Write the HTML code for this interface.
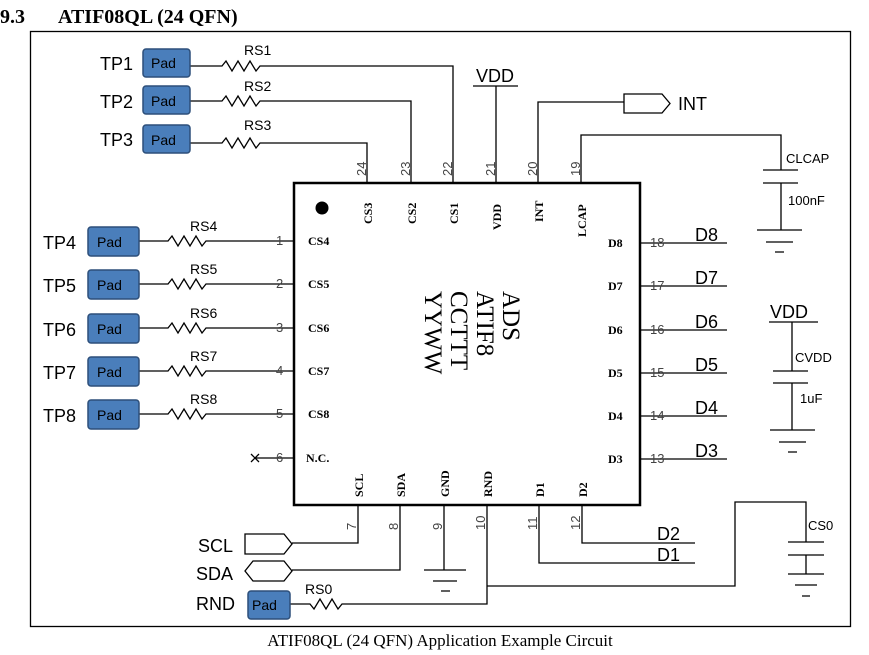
<!DOCTYPE html>
<html><head><meta charset="utf-8"><style>
body{margin:0;background:#fff;width:869px;height:655px;overflow:hidden}
svg{display:block}
.a{font-family:"Liberation Sans",Arial,sans-serif;fill:#000}
.s{font-family:"Liberation Serif",serif;fill:#000}
.b{font-family:"Liberation Serif",serif;font-weight:bold;font-size:12px;fill:#000}
.n{font-family:"Liberation Sans",sans-serif;font-size:13px;fill:#444}
.pad{fill:#4a7ebb;stroke:#2d4f7a;stroke-width:1.5}
.pt{font-family:"Liberation Sans",sans-serif;font-size:14px;fill:#000}
</style></head><body>
<svg width="869" height="655" viewBox="0 0 869 655" xmlns="http://www.w3.org/2000/svg">
<text x="0" y="23" class="s" font-size="20" font-weight="bold">9.3</text>
<text x="58" y="23" class="s" font-size="20" font-weight="bold">ATIF08QL (24 QFN)</text>
<rect x="30.5" y="31.5" width="820" height="595" fill="none" stroke="#000" stroke-width="1.3"/>
<g stroke="#000" stroke-width="1.3" fill="none">
<rect x="294" y="183" width="346" height="322" stroke-width="2.5"/>
<path d="M190 66H222l4-5 6 10 6-10 6 10 6-10 6 10 4-5H453V183"/>
<path d="M190 101H222l4-5 6 10 6-10 6 10 6-10 6 10 4-5H411V183"/>
<path d="M190 143H222l4-5 6 10 6-10 6 10 6-10 6 10 4-5H367V183"/>
<path d="M496 183V86M473 86H518"/>
<path d="M538 183V102H624"/>
<path d="M624 94H662l8 9.5-8 9.5H624Z"/>
<path d="M581 183V135H781V170M763 170H798M763 183H798M781 183V230M757 230H802M766 242H793M775 252H784"/>
<path d="M139 241H168l4-5 6 10 6-10 6 10 6-10 6 10 4-5H294"/>
<path d="M139 284H168l4-5 6 10 6-10 6 10 6-10 6 10 4-5H294"/>
<path d="M139 328H168l4-5 6 10 6-10 6 10 6-10 6 10 4-5H294"/>
<path d="M139 371H168l4-5 6 10 6-10 6 10 6-10 6 10 4-5H294"/>
<path d="M139 414H168l4-5 6 10 6-10 6 10 6-10 6 10 4-5H294"/>
<path d="M255 458H294M251 454l8 8M259 454l-8 8"/>
<path d="M640 243H727M640 286H727M640 330H727M640 373H727M640 416H727M640 459H727"/>
<path d="M769 322H818M792 322V371M773 371H808M773 383H808M792 383V430M770 430H815M779 442H806M788 452H797"/>
<path d="M358 505V543H292M400 505V570H292"/>
<path d="M245 534H284l8 10-8 10H245Z"/>
<path d="M253 561H284l8 10-8 10H253l-8-10Z"/>
<path d="M444 505V570M424 570H466M433 581H457M441 591H450"/>
<path d="M487 505V604H342l-4 5-6-10-6 10-6-10-6 10-4-5H290"/>
<path d="M487 586H735V502H806V542M788 542H824M788 555H824M806 555V574M788 574H824M795 585H817M802 596H810"/>
<path d="M539 505V563H695M582 505V543H695"/>
</g>
<circle cx="322" cy="208" r="6.5" fill="#000"/>
<g>
<rect class="pad" x="143" y="49" width="47" height="28" rx="3"/><text class="pt" x="151" y="68">Pad</text>
<rect class="pad" x="143" y="86" width="47" height="28" rx="3"/><text class="pt" x="151" y="106">Pad</text>
<rect class="pad" x="143" y="125" width="47" height="28" rx="3"/><text class="pt" x="151" y="145">Pad</text>
<rect class="pad" x="88" y="227" width="51" height="29" rx="3"/><text class="pt" x="97" y="247">Pad</text>
<rect class="pad" x="88" y="270" width="51" height="29" rx="3"/><text class="pt" x="97" y="290">Pad</text>
<rect class="pad" x="88" y="314" width="51" height="29" rx="3"/><text class="pt" x="97" y="334">Pad</text>
<rect class="pad" x="88" y="357" width="51" height="29" rx="3"/><text class="pt" x="97" y="377">Pad</text>
<rect class="pad" x="88" y="400" width="51" height="29" rx="3"/><text class="pt" x="97" y="420">Pad</text>
<rect class="pad" x="248" y="591" width="42" height="28" rx="3"/><text class="pt" x="252" y="610">Pad</text>
</g>
<g class="a" font-size="18">
<text x="100" y="70">TP1</text><text x="100" y="108">TP2</text><text x="100" y="146">TP3</text>
<text x="43" y="249">TP4</text><text x="43" y="292">TP5</text><text x="43" y="336">TP6</text><text x="43" y="379">TP7</text><text x="43" y="422">TP8</text>
<text x="476" y="82">VDD</text><text x="678" y="110">INT</text><text x="770" y="318">VDD</text>
<text x="695" y="241">D8</text><text x="695" y="284">D7</text><text x="695" y="328">D6</text><text x="695" y="371">D5</text><text x="695" y="414">D4</text><text x="695" y="457">D3</text>
<text x="657" y="540">D2</text><text x="657" y="561">D1</text>
<text x="198" y="552">SCL</text><text x="196" y="580">SDA</text><text x="196" y="610">RND</text>
</g>
<g class="a" font-size="14">
<text x="244" y="55">RS1</text><text x="244" y="91">RS2</text><text x="244" y="130">RS3</text>
<text x="190" y="231">RS4</text><text x="190" y="274">RS5</text><text x="190" y="318">RS6</text><text x="190" y="361">RS7</text><text x="190" y="404">RS8</text>
<text x="305" y="594">RS0</text>
</g>
<g class="a" font-size="13">
<text x="786" y="163">CLCAP</text><text x="788" y="205">100nF</text>
<text x="795" y="362">CVDD</text><text x="800" y="403">1uF</text>
<text x="808" y="530">CS0</text>
</g>
<g class="n">
<text x="276" y="245">1</text><text x="276" y="288">2</text><text x="276" y="332">3</text><text x="276" y="375">4</text><text x="276" y="418">5</text><text x="276" y="462">6</text>
<text x="650" y="247">18</text><text x="650" y="290">17</text><text x="650" y="334">16</text><text x="650" y="377">15</text><text x="650" y="420">14</text><text x="650" y="463">13</text>
<text transform="translate(366,176) rotate(-90)">24</text><text transform="translate(410,176) rotate(-90)">23</text><text transform="translate(452,176) rotate(-90)">22</text><text transform="translate(495,176) rotate(-90)">21</text><text transform="translate(537,176) rotate(-90)">20</text><text transform="translate(580,176) rotate(-90)">19</text>
<text transform="translate(356,530) rotate(-90)">7</text><text transform="translate(398,530) rotate(-90)">8</text><text transform="translate(442,530) rotate(-90)">9</text><text transform="translate(485,530) rotate(-90)">10</text><text transform="translate(537,530) rotate(-90)">11</text><text transform="translate(580,530) rotate(-90)">12</text>
</g>
<g class="b">
<text x="308" y="245">CS4</text><text x="308" y="288">CS5</text><text x="308" y="332">CS6</text><text x="308" y="375">CS7</text><text x="308" y="418">CS8</text><text x="306" y="462">N.C.</text>
<text x="608" y="247">D8</text><text x="608" y="290">D7</text><text x="608" y="334">D6</text><text x="608" y="377">D5</text><text x="608" y="420">D4</text><text x="608" y="463">D3</text>
<text transform="translate(372,224) rotate(-90)">CS3</text><text transform="translate(416,224) rotate(-90)">CS2</text><text transform="translate(458,224) rotate(-90)">CS1</text><text transform="translate(501,230) rotate(-90)">VDD</text><text transform="translate(543,222) rotate(-90)">INT</text><text transform="translate(586,237) rotate(-90)">LCAP</text>
<text transform="translate(363,497) rotate(-90)">SCL</text><text transform="translate(405,497) rotate(-90)">SDA</text><text transform="translate(449,497) rotate(-90)">GND</text><text transform="translate(492,497) rotate(-90)">RND</text><text transform="translate(544,497) rotate(-90)">D1</text><text transform="translate(587,497) rotate(-90)">D2</text>
</g>
<g class="s" font-size="25">
<text transform="translate(503,291) rotate(90)">ADS</text>
<text transform="translate(477,291) rotate(90)">ATIF8</text>
<text transform="translate(451,291) rotate(90)">CCTTT</text>
<text transform="translate(425,291) rotate(90)">YYWW</text>
</g>
<text x="440" y="646" class="s" font-size="17" text-anchor="middle">ATIF08QL (24 QFN) Application Example Circuit</text>
</svg>
</body></html>
